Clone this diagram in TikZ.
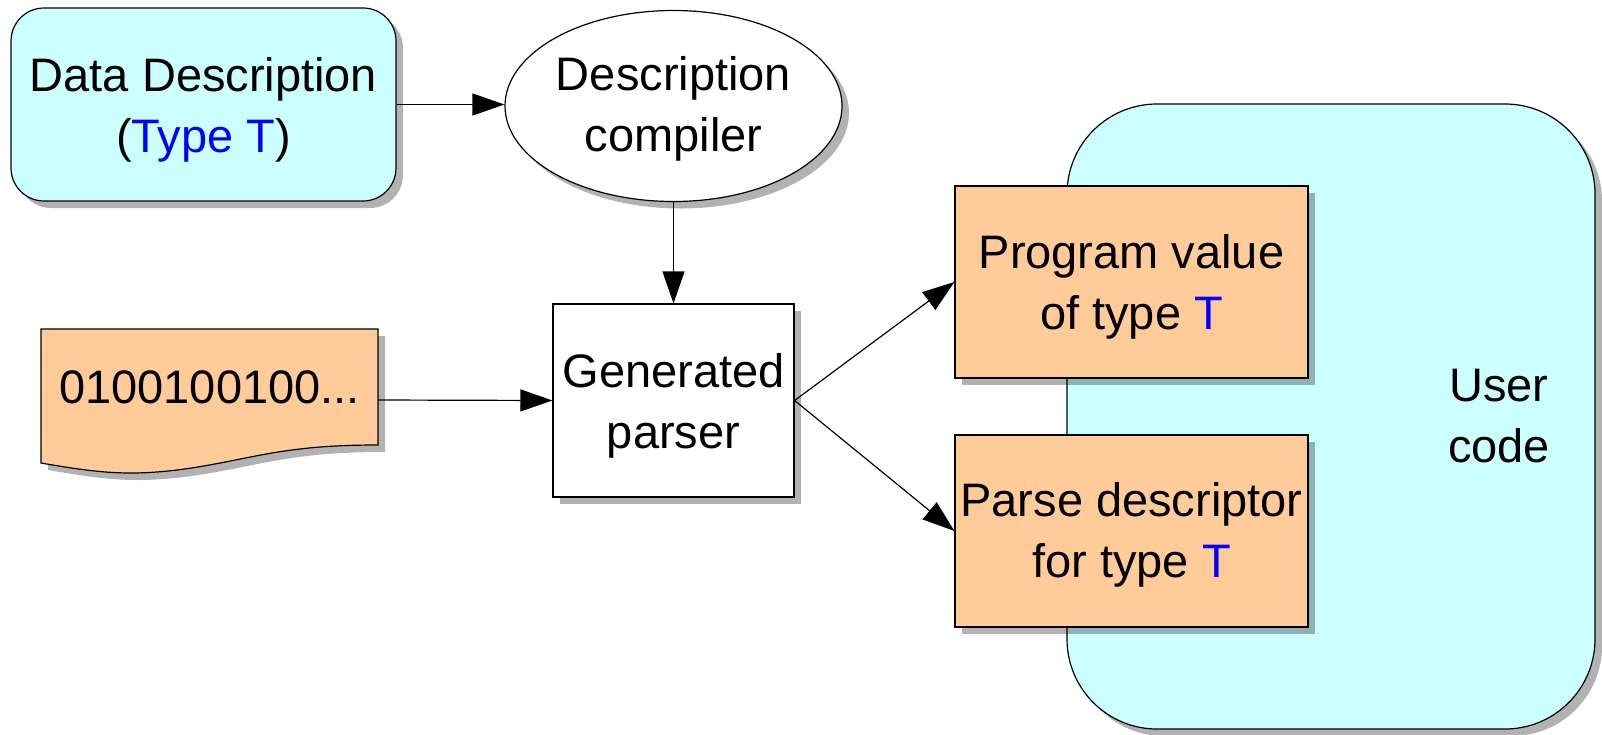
\documentclass[tikz,border=0pt]{standalone}
\usepackage{fontspec}
\setmainfont{Liberation Sans}
\usetikzlibrary{arrows.meta,shapes.geometric,shadows}
\definecolor{paleCyan}{HTML}{CCFFFF}
\definecolor{paleOrange}{HTML}{FFCC99}
\definecolor{typeBlue}{HTML}{0000FF}
\newcommand{\tT}[1]{\textcolor{typeBlue}{#1}}

\begin{document}
\begin{tikzpicture}[x=1pt,y=-1pt,
  font=\fontsize{47}{61}\selectfont,
  every node/.style={inner sep=0pt, align=center},
  boxline/.style={draw=black, line width=1.2pt},
  dropshade/.style={drop shadow={shadow xshift=7pt, shadow yshift=-7pt, fill=black, opacity=0.3}},
  shadefill/.style={fill=black, opacity=0.3},
  flow/.style={-{Triangle[length=32pt,width=22pt]}, line width=1.2pt},
  twolines/.style={text height=95pt, text depth=#1}
]
% canvas
\fill[white] (0,0) rectangle (1602,734);
\useasboundingbox (0,0) rectangle (1602,734);

% large rounded area for the user code
\node[boxline, dropshade, fill=paleCyan, rounded corners=90pt,
      minimum width=528pt, minimum height=625pt] (user) at (1331,416.5) {};
\node[twolines=0pt] (userlabel) at (1499,414.5) {User\\code};

% data description
\node[boxline, dropshade, fill=paleCyan, rounded corners=33pt,
      minimum width=385pt, minimum height=193pt, twolines=0pt]
      (dd) at (203.5,104.5) {Data Description\\(\tT{Type T})};

% description compiler
\node[ellipse, boxline, dropshade, fill=white,
      minimum width=337pt, minimum height=191pt, twolines=5pt]
      (ell) at (673.5,106) {Description\\compiler};

% generated parser
\node[boxline, dropshade, fill=white,
      minimum width=241pt, minimum height=193pt, twolines=0pt]
      (parser) at (673.5,400.5) {Generated\\parser};

% outputs of the parser
\node[boxline, dropshade, fill=paleOrange,
      minimum width=353pt, minimum height=192pt, twolines=1pt]
      (prog) at (1131.5,282) {Program value\\of type \tT{T}};
\node[boxline, dropshade, fill=paleOrange,
      minimum width=353pt, minimum height=192pt, twolines=3pt]
      (pdesc) at (1131.5,531) {Parse descriptor\\for type \tT{T}};

% input data document with wavy lower edge
\def\docpath{(41,329) -- (378,329) -- (378,445)
  .. controls (350,445) and (325,446) .. (300,449)
  .. controls (245,455) and (195,473) .. (130,473)
  .. controls (100,473) and (70,468) .. (41,463) -- cycle}
\fill[shadefill, xshift=7pt, yshift=-7pt] \docpath;
\draw[boxline, fill=paleOrange] \docpath;
\node[minimum width=337pt, minimum height=142pt, text height=34pt, text depth=28pt]
      (doc) at (209.5,400) {0100100100...};

% connectors
\draw[flow] (dd.east) -- (dd.east -| ell.west);
\draw[flow] (ell.south) -- (parser.north);
\draw[flow] (doc.east) -- (parser.west);
\draw[flow] (parser.east) -- (prog.west);
\draw[flow] (parser.east) -- (pdesc.west);
\end{tikzpicture}
\end{document}
